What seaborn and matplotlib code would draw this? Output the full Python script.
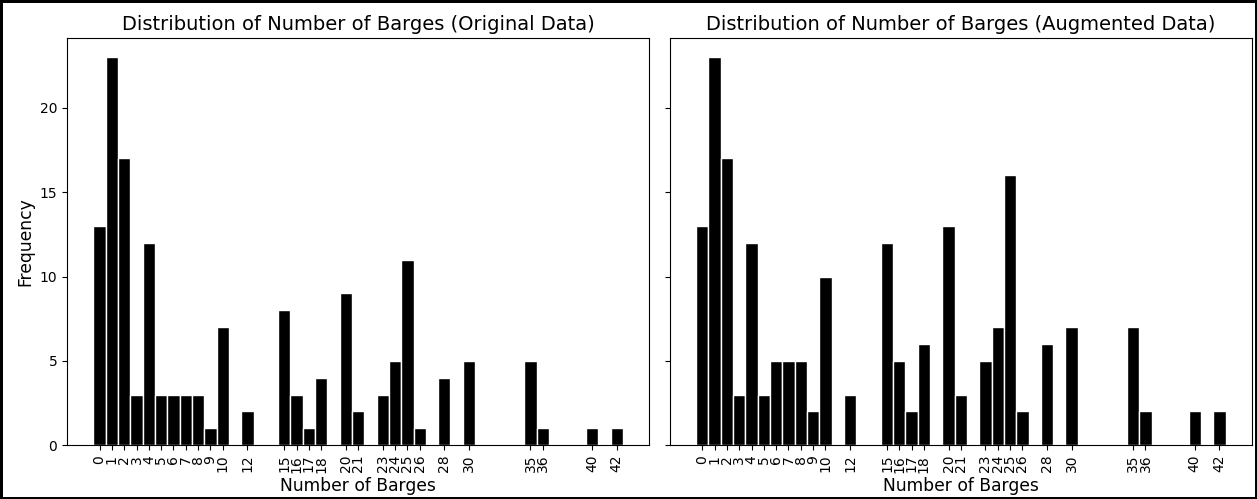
import numpy as np
import pandas as pd
import matplotlib
matplotlib.use("Agg")
import matplotlib.pyplot as plt
import seaborn as sns

# barge counts seen and how often each occurs
barges = [0, 1, 2, 3, 4, 5, 6, 7, 8, 9, 10, 12, 15, 16, 17, 18, 20, 21,
          23, 24, 25, 26, 28, 30, 35, 36, 40, 42]
freq_original = [13, 23, 17, 3, 12, 3, 3, 3, 3, 1, 7, 2, 8, 3, 1, 4, 9, 2,
                 3, 5, 11, 1, 4, 5, 5, 1, 1, 1]
freq_augmented = [13, 23, 17, 3, 12, 3, 5, 5, 5, 2, 10, 3, 12, 5, 2, 6, 13, 3,
                  5, 7, 16, 2, 6, 7, 7, 2, 2, 2]
titles = ["Distribution of Number of Barges (Original Data)",
          "Distribution of Number of Barges (Augmented Data)"]

fig, axes = plt.subplots(1, 2, figsize=(12.57, 4.99), dpi=100, sharey=True)
fig.patch.set_edgecolor("black")
fig.patch.set_linewidth(2.2)
fig.subplots_adjust(left=0.0533, right=0.996, bottom=0.108, top=0.924, wspace=0.035)

for ax, freq, title in zip(axes, [freq_original, freq_augmented], titles):
    df = pd.DataFrame({"barges": barges, "count": freq})
    sns.histplot(data=df, x="barges", weights="count", discrete=True, ax=ax,
                 color="black", edgecolor="white", linewidth=1, alpha=1)
    ax.set_xticks(barges)
    ax.set_xticklabels([str(b) for b in barges], rotation=90, fontsize=10)
    ax.set_title(title, fontsize=14)
    ax.set_xlabel("Number of Barges", fontsize=12.3, labelpad=3)
    ax.set_ylabel("")
    ax.tick_params(axis="y", labelsize=10)

axes[0].set_ylabel("Frequency", fontsize=12.3)
axes[0].set_yticks([0, 5, 10, 15, 20])

fig.savefig("out.png", dpi=100, edgecolor=fig.get_edgecolor())
